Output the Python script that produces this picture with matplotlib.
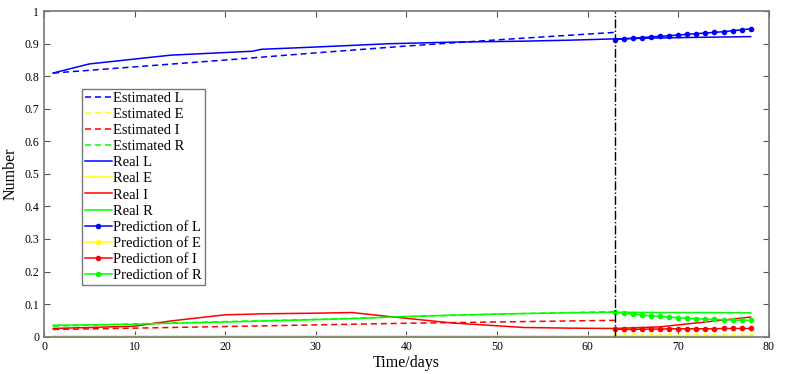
"""
Estimated / real / predicted L, E, I, R curves
"""
import matplotlib
matplotlib.use('Agg')
import matplotlib.pyplot as plt
import numpy as np

plt.rcParams['font.family'] = ['Liberation Serif', 'DejaVu Serif']

# Estimated curves (days 1..63)
est_days = [1, 10, 20, 30, 40, 50, 63]
est_L = [0.810, 0.829, 0.850, 0.872, 0.893, 0.912, 0.935]
est_E = [0.003, 0.003, 0.003, 0.003, 0.003, 0.003, 0.003]
est_I = [0.022, 0.026, 0.031, 0.036, 0.041, 0.045, 0.050]
est_R = [0.032, 0.039, 0.046, 0.053, 0.061, 0.069, 0.077]

# Real curves (days 1..78)
real_days = [1, 5, 10, 14, 20, 23, 24, 30, 34, 38, 45, 53, 58, 63, 68, 73, 78]
real_L = [0.810, 0.838, 0.853, 0.865, 0.873, 0.877, 0.883, 0.890, 0.895, 0.900,
          0.905, 0.908, 0.911, 0.915, 0.918, 0.920, 0.922]
real_E = [0.001] * len(real_days)
real_I = [0.025, 0.028, 0.032, 0.048, 0.067, 0.069, 0.070, 0.072, 0.074, 0.062,
          0.042, 0.028, 0.026, 0.025, 0.030, 0.045, 0.060]
real_R = [0.035, 0.036, 0.038, 0.041, 0.045, 0.047, 0.048, 0.052, 0.055, 0.060,
          0.066, 0.071, 0.073, 0.075, 0.074, 0.074, 0.073]

# Predictions (days 63..78)
pred_days = list(range(63, 79))
pred_L = [0.913, 0.915, 0.917, 0.919, 0.921, 0.923, 0.925, 0.927, 0.929, 0.931,
          0.933, 0.935, 0.937, 0.940, 0.943, 0.946]
pred_E = [0.003] * 16
pred_I = [0.023, 0.022, 0.022, 0.023, 0.023, 0.023, 0.024, 0.024, 0.024, 0.024,
          0.024, 0.024, 0.025, 0.025, 0.025, 0.025]
pred_R = [0.075, 0.072, 0.069, 0.066, 0.064, 0.062, 0.060, 0.058, 0.056, 0.055,
          0.054, 0.053, 0.052, 0.051, 0.050, 0.050]

colors = {'L': '#0000ff', 'E': '#ffff00', 'I': '#ff0000', 'R': '#00ff00'}

fig = plt.figure(figsize=(7.93, 3.74), dpi=100)
ax = fig.add_axes([0.0555, 0.1, 0.914, 0.87])

est = {'L': est_L, 'E': est_E, 'I': est_I, 'R': est_R}
real = {'L': real_L, 'E': real_E, 'I': real_I, 'R': real_R}
pred = {'L': pred_L, 'E': pred_E, 'I': pred_I, 'R': pred_R}

for k in 'LEIR':
    ax.plot(est_days, est[k], color=colors[k], lw=1.1, ls=(0, (4, 2.5)),
            label=f'Estimated {k}')
for k in 'LEIR':
    ax.plot(real_days, real[k], '-', color=colors[k], lw=1.1, label=f'Real {k}')
for k in 'LEIR':
    ax.plot(pred_days, pred[k], '-', marker='o', ms=3, color=colors[k], lw=1.1,
            label=f'Prediction of {k}')

ax.axvline(63, color='black', ls='-.', lw=1.0)

ax.set_xlim(0, 80)
ax.set_ylim(0, 1)
ax.set_xticks(np.arange(0, 81, 10))
ax.set_yticks(np.arange(0, 1.01, 0.1))
ax.set_yticklabels(['0', '0.1', '0.2', '0.3', '0.4', '0.5', '0.6', '0.7', '0.8', '0.9', '1'])
ax.tick_params(direction='in', top=True, right=True, labelsize=8.5, length=4, color='#555555')
for s in ax.spines.values():
    s.set_color('#777777')
    s.set_linewidth(1.2)
ax.set_xlabel('Time/days', fontsize=11.5, labelpad=1)
ax.set_ylabel('Number', fontsize=11.5, labelpad=4)

leg = ax.legend(loc='upper left', bbox_to_anchor=(0.053, 0.762), fontsize=10.5,
                frameon=True, fancybox=False, edgecolor='#555555',
                handlelength=1.8, handletextpad=0.1, labelspacing=0.2,
                borderpad=0.2, borderaxespad=0)
leg.get_frame().set_linewidth(1.0)

plt.savefig('out.png', dpi=100)
plt.close()
